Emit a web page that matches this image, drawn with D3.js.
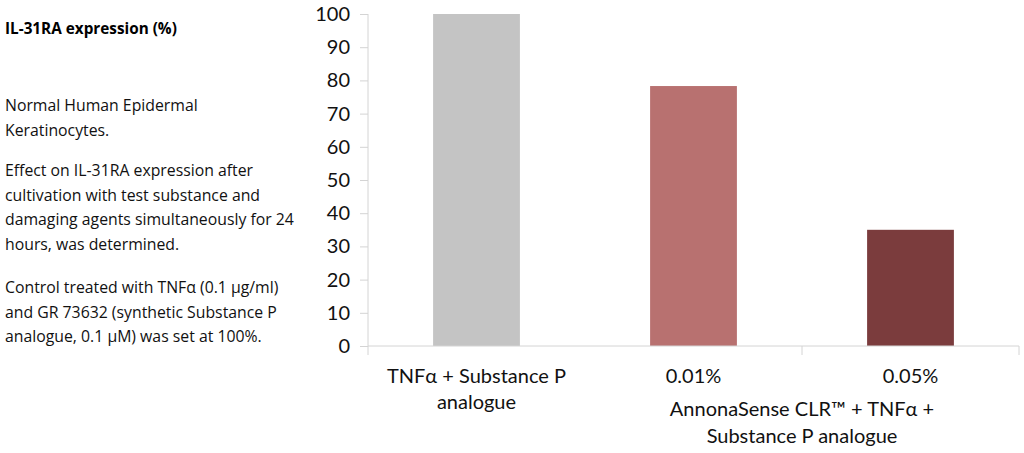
<!DOCTYPE html>
<html><head><meta charset="utf-8">
<script src="https://cdn.jsdelivr.net/npm/d3@7"></script>
<style>body{margin:0;background:#fff}</style>
</head><body><div id="chart-area"></div>
<script>
var categories = ["TNFα + Substance P analogue", "0.01%", "0.05%"];
var values = [100, 78.3, 35];
var colors = ["#c4c4c4", "#b87170", "#7b3c3d"];
var yTicks = [0, 10, 20, 30, 40, 50, 60, 70, 80, 90, 100];
var groupLabel = ["AnnonaSense CLR™ + TNFα +", "Substance P analogue"];
var notes = [
    ["Normal Human Epidermal", "Keratinocytes."],
    ["Effect on IL-31RA expression after", "cultivation with test substance and", "damaging agents simultaneously for 24", "hours, was determined."],
    ["Control treated with TNFα (0.1 µg/ml)", "and GR 73632 (synthetic Substance P", "analogue, 0.1 µM) was set at 100%."]
];

var font = "Lato, 'Open Sans', sans-serif";
var noteFont = "'Open Sans', sans-serif";
var svg = d3.select("#chart-area").append("svg")
    .attr("width", 1024).attr("height", 453)
    .style("font-family", font);

// left text block
svg.append("text").attr("x", 5).attr("y", 34)
    .attr("font-size", "15.3px").attr("font-weight", "bold").attr("font-family", noteFont)
    .text("IL-31RA expression (%)");
var noteY = [111, 176, 293];
notes.forEach(function(par, i) {
    par.forEach(function(line, j) {
        svg.append("text").attr("x", 5).attr("y", noteY[i] + j * 24.5)
            .attr("font-size", "15.8px").attr("font-family", noteFont).style("fill", "#111").text(line);
    });
});

var plotL = 368, plotR = 1019, plotT = 14, plotB = 346;
var x = d3.scaleBand().domain(categories).range([plotL, plotR]).paddingInner(0.6).paddingOuter(0.3);
var y = d3.scaleLinear().domain([0, 100]).range([plotB, plotT]);

svg.selectAll("rect").data(values).enter().append("rect")
    .attr("x", function(d, i) { return x(categories[i]); })
    .attr("width", x.bandwidth())
    .attr("y", function(d) { return y(d); })
    .attr("height", function(d) { return plotB - y(d); })
    .attr("fill", function(d, i) { return colors[i]; });

var yAxis = svg.append("g").attr("transform", "translate(" + plotL + ",0)")
    .call(d3.axisLeft(y).tickValues(yTicks).tickSize(8).tickPadding(10));
yAxis.selectAll("line,path").attr("stroke", "#d4d4d4");
yAxis.select("path").attr("d", "M0," + plotT + "V" + plotB);
yAxis.selectAll("text").attr("font-size", "20px").attr("font-family", font).style("fill", "#111");

// x axis line with dividers
var xg = svg.append("g");
xg.append("line").attr("x1", plotL).attr("x2", plotR).attr("y1", plotB).attr("y2", plotB).attr("stroke", "#d4d4d4");
var dividers = [plotL, (x(categories[1]) + x(categories[2]) + x.bandwidth()) / 2, plotR];
xg.selectAll(".div").data(dividers).enter().append("line")
    .attr("x1", function(d) { return d; }).attr("x2", function(d) { return d; })
    .attr("y1", plotB).attr("y2", plotB + 9).attr("stroke", "#d4d4d4");

var cx = function(i) { return x(categories[i]) + x.bandwidth() / 2; };
svg.append("text").attr("x", cx(0)).attr("y", 383).attr("text-anchor", "middle")
    .attr("font-size", "20px").style("fill", "#111").text("TNFα + Substance P");
svg.append("text").attr("x", cx(0)).attr("y", 409).attr("text-anchor", "middle")
    .attr("font-size", "20px").style("fill", "#111").text("analogue");
[1, 2].forEach(function(i) {
    svg.append("text").attr("x", cx(i)).attr("y", 383).attr("text-anchor", "middle")
        .attr("font-size", "20px").style("fill", "#111").text(categories[i]);
});
groupLabel.forEach(function(t, j) {
    svg.append("text").attr("x", dividers[1]).attr("y", 416 + j * 27).attr("text-anchor", "middle")
        .attr("font-size", "20px").style("fill", "#111").text(t);
});
</script></body></html>
